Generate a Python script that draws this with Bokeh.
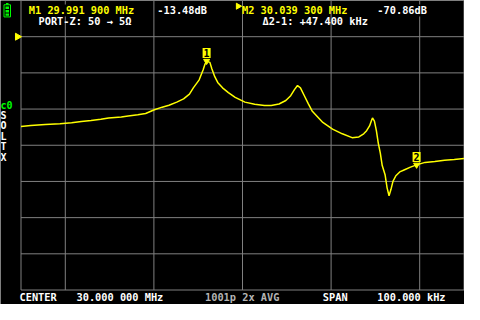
import numpy as np
from bokeh.plotting import figure
from bokeh.models import Label, ColumnDataSource
from bokeh.embed import file_html
from bokeh.resources import INLINE
from bokeh.core.properties import value

freq_mhz = [29.95000, 29.95220, 29.95549, 29.95879, 29.96143, 29.96363, 29.96582, 29.96802,
            29.96978, 29.97264, 29.97418, 29.97637, 29.97813, 29.98011, 29.98187, 29.98341,
            29.98516, 29.98670, 29.98802, 29.98890, 29.98956, 29.99022, 29.99110, 29.99154,
            29.99190, 29.99264, 29.99308, 29.99374, 29.99440, 29.99549, 29.99681, 29.99835,
            30.00055, 30.00275, 30.00495, 30.00648, 30.00824, 30.00978, 30.01088, 30.01176,
            30.01242, 30.01308, 30.01396, 30.01484, 30.01571, 30.01813, 30.02033, 30.02253,
            30.02473, 30.02626, 30.02736, 30.02802, 30.02868, 30.02912, 30.02934, 30.02978,
            30.03022, 30.03066, 30.03110, 30.03154, 30.03220, 30.03264, 30.03308, 30.03352,
            30.03396, 30.03462, 30.03549, 30.03659, 30.03791, 30.03930, 30.04121, 30.04341,
            30.04560, 30.04780, 30.05000]
s11_db = [-49.63, -49.11, -48.58, -48.05, -47.53, -46.84, -46.32, -45.63,
          -44.89, -44.37, -43.84, -43.16, -42.47, -40.37, -38.95, -37.89,
          -36.16, -34.37, -31.74, -28.26, -26.05, -23.84, -18.42, -15.11,
          -13.48, -14.21, -17.74, -22.11, -25.26, -28.26, -30.89, -33.53,
          -36.16, -37.37, -38.05, -38.05, -37.21, -35.26, -32.63, -29.11,
          -27.00, -28.26, -32.63, -37.00, -41.05, -47.37, -51.05, -53.68,
          -55.79, -55.42, -53.68, -51.95, -49.32, -46.32, -44.89, -46.68,
          -51.95, -58.95, -64.21, -71.21, -76.47, -83.53, -87.89, -84.37,
          -80.00, -76.84, -74.74, -73.53, -72.11, -70.86, -69.47, -68.95,
          -68.26, -67.89, -67.37]

marker_ids = ["1", "2"]
marker_freq = [29.991900, 30.039300]
marker_db = [-13.48, -70.86]

grid_freq = [29.95, 29.96, 29.98, 30.00, 30.02, 30.04, 30.05]
grid_db = [0, -20, -40, -60, -80, -100, -120, -140]
ref_level_db = 0

title_m1 = "M1 29.991 900 MHz"
title_m1_val = "-13.48dB"
title_m2 = "M2 30.039 300 MHz"
title_m2_val = "-70.86dB"
port_z = "PORT-Z: 50 \u2192 5\u03a9"
delta = "\u03942-1: +47.400 kHz"
cal_lines = ["c0", "S", "O", "L", "T", "X"]
foot_center = ["CENTER", "30.000 000 MHz"]
foot_points = "1001p  2x AVG"
foot_span = ["SPAN", "100.000 kHz"]

# ---------------- geometry ----------------
W, H = 464, 304
F0, F1 = 29.95, 30.05
DB_TOP, DB_BOT = 20, -140
PX_LEFT, PX_RIGHT = 20.5, 463.5
PX_TOP, PX_BOT = 0.0, 289.5
sx = (PX_RIGHT - PX_LEFT) / (F1 - F0)
sy = (PX_BOT - PX_TOP) / (DB_TOP - DB_BOT)
x_start = F0 - PX_LEFT / sx
x_end = x_start + W / sx
y_end = DB_TOP + PX_TOP / sy
y_start = y_end - H / sy


def px2x(px):
    return x_start + px / sx


def px2y(py):
    return y_end - py / sy


def mx(X):
    # screen column of the original display -> column of this figure
    return X if X <= 20 else PX_LEFT + (X - 20) * (PX_RIGHT - PX_LEFT) / 455.0


def my(Y):
    return Y * 0.95


YEL = "#ffff00"
WHITE = "#ffffff"
GRID = "#808080"
GREEN = "#00fc00"
FONT = "DejaVu Sans Mono"
FS = "10.3px"

p = figure(width=W, height=H, output_backend="svg", toolbar_location=None,
           x_range=(x_start, x_end), y_range=(y_start, y_end),
           x_axis_location=None, y_axis_location=None,
           min_border=0, min_border_left=0, min_border_right=0,
           min_border_top=0, min_border_bottom=0)
p.background_fill_color = "black"
p.border_fill_color = "black"
p.outline_line_color = None
p.grid.visible = False

# grid
p.segment(x0=grid_freq, x1=grid_freq, y0=[DB_BOT] * len(grid_freq), y1=[DB_TOP] * len(grid_freq),
          line_color=GRID, line_width=1)
p.segment(x0=[F0] * len(grid_db), x1=[F1] * len(grid_db), y0=grid_db, y1=grid_db,
          line_color=GRID, line_width=1)

# reference level marker
p.scatter(x=[px2x(17)], y=[ref_level_db], marker="triangle", angle=-np.pi / 2, size=7,
          fill_color=YEL, line_color=YEL)

# trace
p.line(freq_mhz, s11_db, line_color=YEL, line_width=1.5)

# markers
msrc = ColumnDataSource(dict(f=marker_freq, db=marker_db, id=marker_ids))
p.scatter("f", "db", source=msrc, marker="inverted_triangle", size=6, fill_color=YEL, line_color=YEL)
p.text("f", "db", text="id", source=msrc, text_color="black", text_font=value(FONT),
       text_font_style="bold", text_font_size="10px", text_align="center", text_baseline="bottom",
       y_offset=-3, background_fill_color=YEL, padding=1)

# battery icon
p.quad(left=[px2x(3.5)], right=[px2x(10)], top=[px2y(my(4.5))], bottom=[px2y(my(17.3))],
       fill_color=None, line_color=GREEN, line_width=1)
p.quad(left=[px2x(5.5)], right=[px2x(8)], top=[px2y(my(2.7))], bottom=[px2y(my(4.5))],
       fill_color=GREEN, line_color=None)
p.quad(left=[px2x(5)] * 3, right=[px2x(8.5)] * 3,
       top=[px2y(my(6.3)), px2y(my(10)), px2y(my(13.7))],
       bottom=[px2y(my(9)), px2y(my(12.7)), px2y(my(16))],
       fill_color=GREEN, line_color=None)

# M2 active marker arrow
p.scatter(x=[px2x(mx(243))], y=[px2y(my(6))], marker="triangle", angle=-np.pi / 2, size=6,
          fill_color=YEL, line_color=YEL)


def label(text, X, Y, color=WHITE, size=FS, bg=None, baseline="alphabetic", py=None):
    kw = {}
    if bg is not None:
        kw["background_fill_color"] = bg
    yy = px2y(my(Y)) if py is None else px2y(py)
    p.add_layout(Label(x=px2x(mx(X)), y=yy, text=text, text_color=color,
                       text_font=FONT, text_font_style="bold", text_font_size=size,
                       text_align="left", text_baseline=baseline, **kw))


label(title_m1, 28, 10.5, YEL, bg="black")
label(title_m1_val, 160, 10.5)
label(port_z, 38, 21.5)
label(title_m2, 247, 10.5, YEL)
label(title_m2_val, 386, 10.5, bg="black")
label(delta, 268, 21.5)

label(cal_lines[0], 0, 110, GREEN, size="10px")
for i, t in enumerate(cal_lines[1:]):
    label(t, 0, 121 + 11.05 * i, size="10px")

FOOT_PY = 302.5
label(foot_center[0], 19, 0, baseline="bottom", py=FOOT_PY)
label(foot_center[1], 77, 0, baseline="bottom", py=FOOT_PY)
label(foot_points, 209, 0, color="#b4b4b4", baseline="bottom", py=FOOT_PY)
label(foot_span[0], 330, 0, baseline="bottom", py=FOOT_PY)
label(foot_span[1], 386, 0, baseline="bottom", py=FOOT_PY)

open("out.html", "w").write(file_html(p, INLINE))
